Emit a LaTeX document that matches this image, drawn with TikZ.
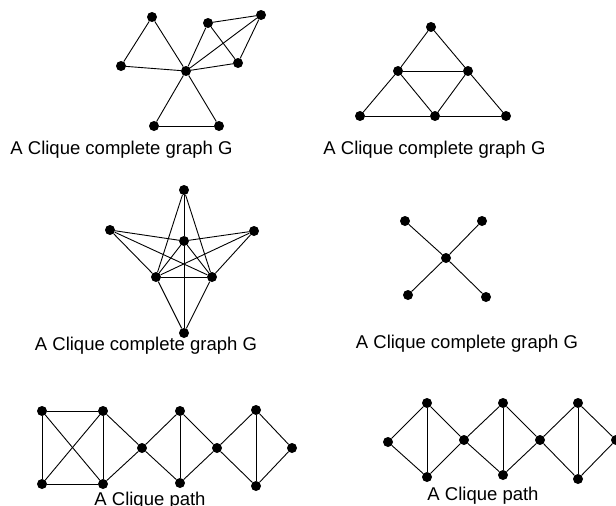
\documentclass[tikz,border=0pt]{standalone}
\usepackage{fontspec}
\setmainfont{Liberation Sans}
\usepackage{tikz}

\begin{document}
\begin{tikzpicture}[
        x=1pt, y=-1pt,
        vtx/.style={circle, fill=black, minimum size=10pt, inner sep=0pt},
        edge/.style={line width=0.9pt},
        caption/.style={anchor=base, inner sep=0pt, font=\fontsize{18.5}{22}\selectfont}
    ]
        \useasboundingbox (0,0) rectangle (616,506);
        % top left: three triangles sharing a vertex
        \node[vtx] (a1) at (152,17) {};
        \node[vtx] (a2) at (121,66) {};
        \node[vtx] (a3) at (186,71) {};
        \node[vtx] (a4) at (208,23) {};
        \node[vtx] (a5) at (261,15) {};
        \node[vtx] (a6) at (238,63) {};
        \node[vtx] (a7) at (154,126) {};
        \node[vtx] (a8) at (219,126) {};
        \foreach \u/\v in {a1/a2, a1/a3, a2/a3, a3/a4, a3/a5, a3/a6, a4/a5, a4/a6, a5/a6, a3/a7, a3/a8, a7/a8}
            \draw[edge] (\u) -- (\v);
        \node[caption] (capa) at (121.5,154) {A Clique complete graph G};
        % top right: triangle split into four
        \node[vtx] (b1) at (431,27) {};
        \node[vtx] (b2) at (398,71) {};
        \node[vtx] (b3) at (468,71) {};
        \node[vtx] (b4) at (360,116) {};
        \node[vtx] (b5) at (435,116) {};
        \node[vtx] (b6) at (506,116) {};
        \foreach \u/\v in {b1/b2, b1/b3, b2/b3, b2/b4, b2/b5, b3/b5, b3/b6, b4/b5, b5/b6}
            \draw[edge] (\u) -- (\v);
        \node[caption] (capb) at (434.5,154) {A Clique complete graph G};
        % middle left: star
        \node[vtx] (c1) at (184,190) {};
        \node[vtx] (c2) at (110,230) {};
        \node[vtx] (c3) at (254,231) {};
        \node[vtx] (c4) at (184,241) {};
        \node[vtx] (c5) at (156,277) {};
        \node[vtx] (c6) at (212,277) {};
        \node[vtx] (c7) at (184,333) {};
        \foreach \u/\v in {c1/c4, c4/c7, c1/c5, c1/c6, c2/c4, c2/c5, c2/c6, c3/c4, c3/c5, c3/c6, c4/c5, c4/c6, c5/c6, c5/c7, c6/c7}
            \draw[edge] (\u) -- (\v);
        \node[caption] (capc) at (146,350) {A Clique complete graph G};
        % middle right: cross
        \node[vtx] (d1) at (405,221) {};
        \node[vtx] (d2) at (482,221) {};
        \node[vtx] (d3) at (446,258) {};
        \node[vtx] (d4) at (408,295) {};
        \node[vtx] (d5) at (486,297) {};
        \foreach \u/\v in {d1/d3, d2/d3, d4/d3, d5/d3}
            \draw[edge] (\u) -- (\v);
        \node[caption] (capd) at (467,348) {A Clique complete graph G};
        % bottom left: clique path
        \node[vtx] (e1) at (42,411) {};
        \node[vtx] (e2) at (103,411) {};
        \node[vtx] (e3) at (42,484) {};
        \node[vtx] (e4) at (103,484) {};
        \node[vtx] (e5) at (142,448) {};
        \node[vtx] (e6) at (180,411) {};
        \node[vtx] (e7) at (180,483) {};
        \node[vtx] (e8) at (217,448) {};
        \node[vtx] (e9) at (256,410) {};
        \node[vtx] (e10) at (256,486) {};
        \node[vtx] (e11) at (292,448) {};
        \foreach \u/\v in {e1/e2, e1/e3, e1/e4, e2/e3, e2/e4, e3/e4, e2/e5, e4/e5, e5/e6, e5/e7, e6/e7, e6/e8, e7/e8, e8/e9, e8/e10, e9/e10, e9/e11, e10/e11}
            \draw[edge] (\u) -- (\v);
        \node[caption] (cape) at (150,505) {A Clique path};
        % bottom right: clique path
        \node[vtx] (f1) at (388,442) {};
        \node[vtx] (f2) at (427,403) {};
        \node[vtx] (f3) at (427,477) {};
        \node[vtx] (f4) at (464,440) {};
        \node[vtx] (f5) at (503,403) {};
        \node[vtx] (f6) at (503,475) {};
        \node[vtx] (f7) at (540,440) {};
        \node[vtx] (f8) at (578,403) {};
        \node[vtx] (f9) at (578,479) {};
        \node[vtx] (f10) at (616,440) {};
        \foreach \u/\v in {f1/f2, f1/f3, f2/f3, f2/f4, f3/f4, f4/f5, f4/f6, f5/f6, f5/f7, f6/f7, f7/f8, f7/f9, f8/f9, f8/f10, f9/f10}
            \draw[edge] (\u) -- (\v);
        \node[caption] (capf) at (483,500) {A Clique path};
    \end{tikzpicture}
\end{document}
